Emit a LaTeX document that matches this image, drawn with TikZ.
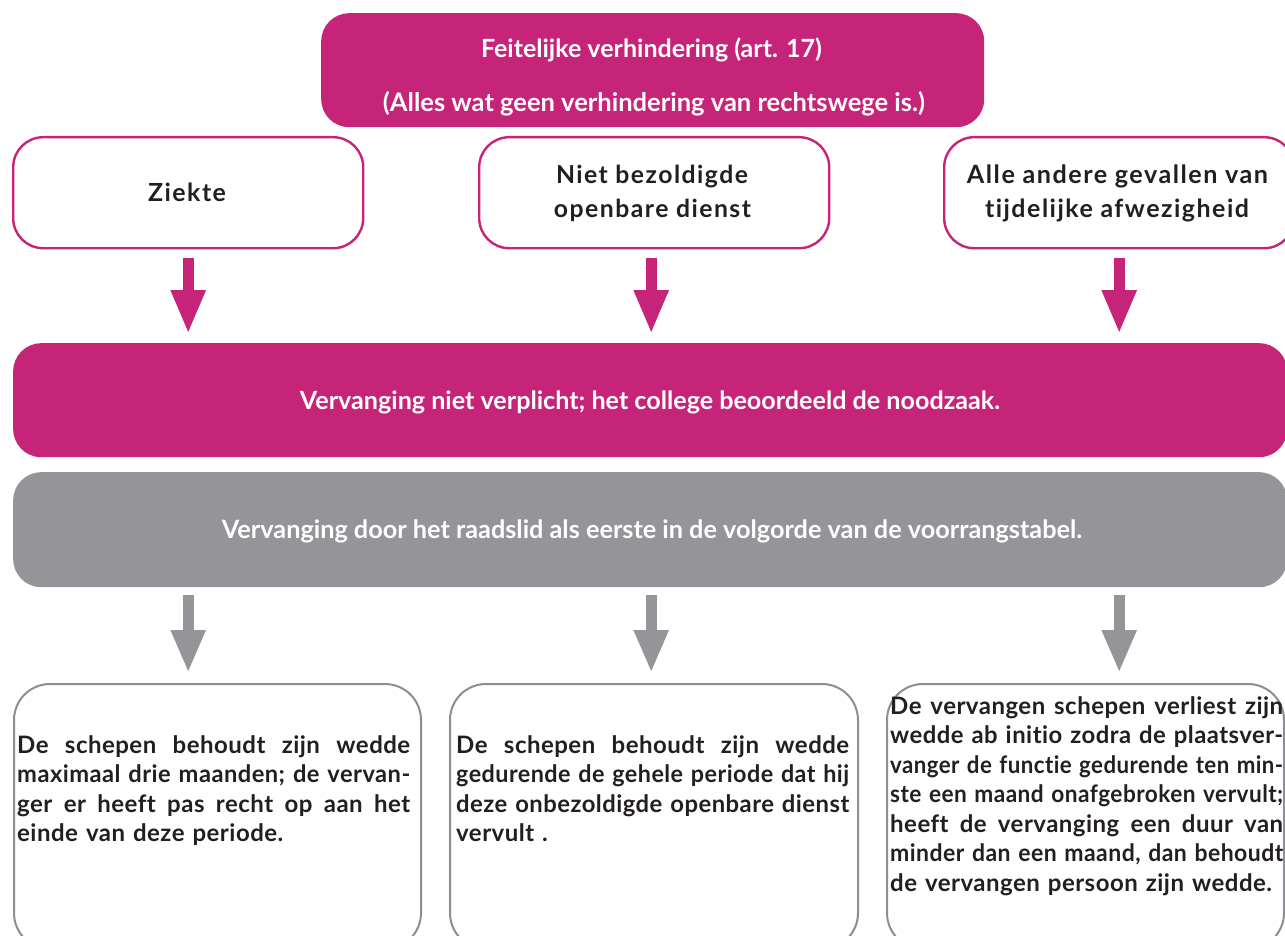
\documentclass[tikz,border=0pt]{standalone}
\usepackage{fontspec}
\setmainfont{Lato}[Ligatures=CommonOff]
\usepackage{graphicx}
\usetikzlibrary{arrows.meta,calc}
\definecolor{mag}{HTML}{C62479}
\definecolor{gry}{HTML}{959499}
\definecolor{gline}{HTML}{8E8E92}
\definecolor{ink}{HTML}{231F20}
\newsavebox\jlbox
\newcommand\jline[2]{\leavevmode\sbox\jlbox{#2}\ifdim\wd\jlbox>#1\relax\resizebox{#1}{\ht\jlbox}{\usebox\jlbox}\else\hbox to #1{\spaceskip=\fontdimen2\font plus 1fil\relax\xspaceskip=\spaceskip #2}\fi}
\newcommand\fitw[2]{\resizebox{#1}{!}{#2}}
\begin{document}
\begin{tikzpicture}[x=1pt,y=-1pt,
  magfill/.style={fill=mag, draw=none, rounded corners=28pt, inner sep=0pt, anchor=north west},
  gryfill/.style={fill=gry, draw=none, rounded corners=28pt, inner sep=0pt, anchor=north west},
  magline/.style={draw=mag, line width=2.4pt, fill=white, rounded corners=30pt, inner sep=0pt, anchor=north west, minimum width=350pt, minimum height=111pt},
  gryline/.style={draw=gline, line width=2pt, fill=white, rounded corners=36pt, inner sep=0pt, anchor=north west, minimum height=265pt},
  wtext/.style={text=white, font=\bfseries, inner sep=0pt, anchor=base},
  btext/.style={text=ink, font=\bfseries\addfontfeature{LetterSpace=6}, inner sep=0pt, anchor=base},
  ptext/.style={text=ink, font=\fontsize{24}{29.5}\selectfont\bfseries\addfontfeature{LetterSpace=2}, inner sep=0pt, anchor=base west, text width=393pt, align=left},
  marrow/.style={draw=mag, line width=11pt, -{Triangle[width=32pt,length=44pt]}},
  garrow/.style={draw=gry, line width=11pt, -{Triangle[width=32pt,length=43pt]}}
]
\useasboundingbox (0,0) rectangle (1285,936);
\clip (0,0) rectangle (1285,936);
% top
\node[magfill, minimum width=663pt, minimum height=114pt] (top) at (321,13) {};
\node[wtext] (top1) at (651.5,58) {\fitw{341pt}{Feitelijke verhindering (art. 17)}};
\node[wtext] (top2) at (654,112) {\fitw{542pt}{(Alles wat geen verhindering van rechtswege is.)}};
% three cases
\node[magline] (ziekte) at (12,136) {};
\node[magline] (niet) at (478,136) {};
\node[magline] (alle) at (943,136) {};
\node[btext] (zt) at (187,201) {\fitw{78pt}{Ziekte}};
\node[btext] (nt1) at (652,183) {\fitw{192pt}{Niet bezoldigde}};
\node[btext] (nt2) at (652.5,218) {\fitw{197pt}{openbare dienst}};
\node[btext] (at1) at (1117.5,184) {\fitw{301pt}{Alle andere gevallen van}};
\node[btext] (at2) at (1117,218) {\fitw{264pt}{tijdelijke afwezigheid}};
% wide boxes
\node[magfill, minimum width=1274pt, minimum height=114pt] (vmid) at (13,343) {};
\node[wtext] (vt) at (650,409) {\fitw{700pt}{Vervanging niet verplicht; het college beoordeeld de noodzaak.}};
\node[gryfill, minimum width=1274pt, minimum height=115pt] (grey) at (13,472) {};
\node[wtext] (gt) at (652,538) {\fitw{860pt}{Vervanging door het raadslid als eerste in de volgorde van de voorrangstabel.}};
% magenta arrows
\draw[marrow] ([yshift=-9pt]ziekte.south) -- ([yshift=9pt]ziekte.south |- vmid.north);
\coordinate (n1) at ([xshift=-3pt]niet.south);
\coordinate (n2) at (n1 |- vmid.north);
\draw[marrow] ($(n1)+(0,9)$) -- ($(n2)+(0,-9)$);
\draw[marrow] ([yshift=-9pt]alle.south) -- ([yshift=9pt]alle.south |- vmid.north);
% bottom boxes
\node[gryline, minimum width=407pt] (b1) at (13,683) {};
\node[gryline, minimum width=408pt] (b2) at (449,683) {};
\node[gryline, minimum width=397pt] (b3) at (886,683) {};
% grey arrows
\coordinate (g1) at (ziekte.south |- grey.south);
\coordinate (h1) at (ziekte.south |- b1.north);
\coordinate (g2) at (n1 |- grey.south);
\coordinate (h2) at (n1 |- b2.north);
\coordinate (g3) at (alle.south |- grey.south);
\coordinate (h3) at (alle.south |- b3.north);
\draw[garrow] ($(g1)+(0,8)$) -- ($(h1)+(0,-10)$);
\draw[garrow] ($(g2)+(0,8)$) -- ($(h2)+(0,-10)$);
\draw[garrow] ($(g3)+(0,8)$) -- ($(h3)+(0,-10)$);
% bottom texts
\node[ptext] (t1) at (17,753) {\jline{393pt}{De schepen behoudt zijn wedde}\\
\jline{393pt}{maximaal drie maanden; de vervan-}\\
\jline{393pt}{ger er heeft pas recht op aan het}\\
einde van deze periode.};
\node[ptext] (t2) at (456,753) {\jline{393pt}{De schepen behoudt zijn wedde}\\
\jline{393pt}{gedurende de gehele periode dat hij}\\
\jline{393pt}{deze onbezoldigde openbare dienst}\\
vervult .};
\node[ptext] (t3) at (890,714) {\jline{393pt}{De vervangen schepen verliest zijn}\\
\jline{393pt}{wedde ab initio zodra de plaatsver-}\\
\jline{393pt}{vanger de functie gedurende ten min-}\\
\jline{393pt}{ste een maand onafgebroken vervult;}\\
\jline{393pt}{heeft de vervanging een duur van}\\
\jline{393pt}{minder dan een maand, dan behoudt}\\
de vervangen persoon zijn wedde.};
\end{tikzpicture}
\end{document}
